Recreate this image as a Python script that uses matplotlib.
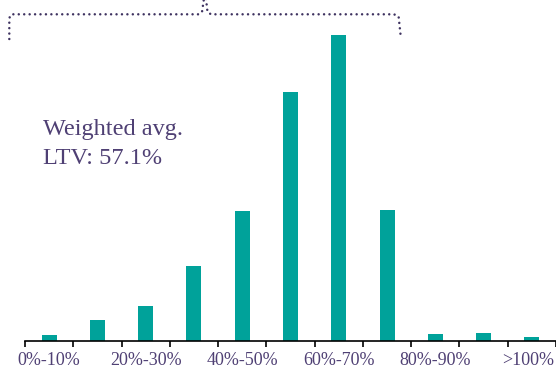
import matplotlib
matplotlib.use("Agg")
import matplotlib.pyplot as plt
from matplotlib.lines import Line2D
from matplotlib.transforms import ScaledTranslation
import numpy as np

# LTV distribution (% of portfolio by loan-to-value band)
bands = ["0%-10%", "10%-20%", "20%-30%", "30%-40%", "40%-50%", "50%-60%",
         "60%-70%", "70%-80%", "80%-90%", "90%-100%", ">100%"]
shares = [0.6, 2.1, 3.6, 7.7, 13.4, 25.7, 31.6, 13.5, 0.7, 0.8, 0.4]
label_lines = ["Weighted avg.", "LTV: 57.1%"]

W, H = 556, 374
TEAL = "#00A29A"
PURPLE = "#4F4074"
DOT = "#3E3260"

plt.rcParams["lines.scale_dashes"] = False
fig = plt.figure(figsize=(W / 100, H / 100), dpi=100)

# axes placed in pixel terms: x from 25 to 556, baseline at y=340.7
base_y = 340.7
px_per_unit = 305.7 / 31.6
ytop = 34.0
ax_h = ytop * px_per_unit
ax = fig.add_axes([25 / W, (H - base_y) / H, 531 / W, ax_h / H])
x = np.arange(len(bands))
ax.bar(x, shares, width=0.31, color=TEAL, edgecolor="none")
ax.set_xlim(-0.5, len(bands) - 0.5)
ax.set_ylim(0, ytop)

for s in ("top", "right", "left"):
    ax.spines[s].set_visible(False)
ax.spines["bottom"].set_linewidth(1.2)
ax.spines["bottom"].set_color("black")
ax.set_yticks([])

# boundary ticks between bands
ax.set_xticks(np.arange(len(bands) + 1) - 0.5)
ax.set_xticklabels([])
ax.tick_params(axis="x", which="major", direction="out", length=4.5,
               width=1.2, color="black")

# band labels on every other band; the last one is nudged in from the edge
shown = x[::2]
for i in shown:
    dx = -3.5 / 100 if i == shown[-1] else 0
    offset = ScaledTranslation(dx, -19.5 / 100, fig.dpi_scale_trans)
    ax.text(i, 0, bands[i], transform=ax.get_xaxis_transform() + offset,
            fontfamily="Liberation Serif", fontsize=13, color=PURPLE,
            ha="center", va="center", clip_on=False)

# annotation, one baseline per line
for line, y_base in zip(label_lines, (135, 164)):
    fig.text(43 / W, 1 - y_base / H, line, fontfamily="Liberation Serif",
             fontsize=17.5, color=PURPLE, ha="left", va="baseline")


def to_fig(pts):
    pts = np.asarray(pts, dtype=float)
    return pts[:, 0] / W, 1 - pts[:, 1] / H


# dotted brace spanning the upper bands
left_half = [(9.3, 39), (9.3, 18), (11.5, 14.3), (198, 14.3), (202, 12),
             (204.2, -3)]
right_half = [(205.8, -3), (207.5, 12), (211, 14.3), (394, 14.3),
              (398.6, 16.5), (401, 39)]
for part in (left_half, right_half):
    fx, fy = to_fig(part)
    fig.add_artist(Line2D(fx, fy, transform=fig.transFigure, color=DOT,
                          linewidth=1.8, linestyle=(0, (0.01, 3.9)),
                          dash_capstyle="round", clip_on=False))

fig.savefig("out.png", dpi=100)
